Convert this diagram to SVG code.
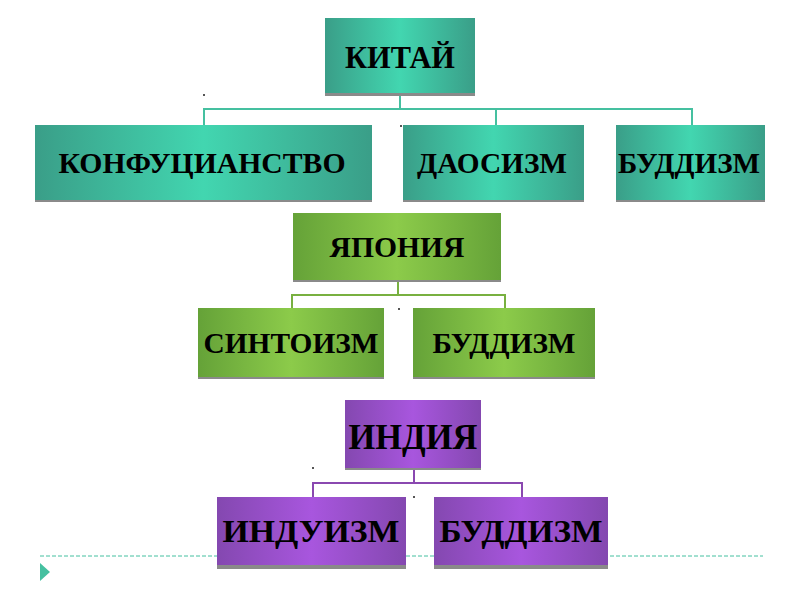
<svg xmlns="http://www.w3.org/2000/svg" width="800" height="600" viewBox="0 0 800 600">
<defs>
<linearGradient id="gT" x1="0" y1="0" x2="1" y2="0">
<stop offset="0" stop-color="#3a9e88"/><stop offset="0.5" stop-color="#42d6b0"/><stop offset="1" stop-color="#3a9e88"/>
</linearGradient>
<linearGradient id="gG" x1="0" y1="0" x2="1" y2="0">
<stop offset="0" stop-color="#65a238"/><stop offset="0.5" stop-color="#8ccb4a"/><stop offset="1" stop-color="#65a238"/>
</linearGradient>
<linearGradient id="gP" x1="0" y1="0" x2="1" y2="0">
<stop offset="0" stop-color="#8448b0"/><stop offset="0.5" stop-color="#a856de"/><stop offset="1" stop-color="#8448b0"/>
</linearGradient>
</defs>
<style>
.t{fill:url(#gT)} .g{fill:url(#gG)} .p{fill:url(#gP)}
.sh{fill:#8a8a8a}
text{font-family:"Liberation Serif","Times New Roman",serif;font-weight:bold;fill:#000;text-anchor:middle}
.ct{stroke:#45c0a0;stroke-width:2;fill:none}
.cg{stroke:#78b040;stroke-width:2;fill:none}
.cp{stroke:#8a48b0;stroke-width:2;fill:none}
</style>
<rect width="800" height="600" fill="#fff"/>
<g id="decor">
<line x1="40" y1="556" x2="763" y2="556" stroke="#45c0a0" stroke-width="1" stroke-dasharray="4,2"/>
<polygon points="40,563 50,572 40,581" fill="#45c0a0"/>
</g>
<g id="connectors">
<path class="ct" d="M400 96V109M204 125V109H692V125M496 109V125"/>
<path class="cg" d="M398 280V295M292 308V295H505V308"/>
<path class="cp" d="M414 468V483M313 497V483H522V497"/>
</g>
<g id="dots" fill="#555">
<rect x="203" y="94" width="2" height="2"/>
<rect x="400" y="125" width="2" height="2"/>
<rect x="398" y="308" width="2" height="2"/>
<rect x="312" y="467" width="2" height="2"/>
<rect x="413" y="496" width="2" height="2"/>
</g>
<g id="china">
<rect class="sh" x="325" y="20" width="150" height="76"/>
<rect class="t" x="325" y="18" width="150" height="75"/>
<text x="400" y="68" font-size="32" textLength="110" lengthAdjust="spacingAndGlyphs">КИТАЙ</text>
</g>
<g id="confucianism">
<rect class="sh" x="35" y="127" width="337" height="75"/>
<rect class="t" x="35" y="125" width="337" height="75"/>
<text x="202" y="173" font-size="30" textLength="287" lengthAdjust="spacingAndGlyphs">КОНФУЦИАНСТВО</text>
</g>
<g id="taoism">
<rect class="sh" x="403" y="127" width="181" height="75"/>
<rect class="t" x="403" y="125" width="181" height="75"/>
<text x="492" y="173" font-size="30" textLength="150" lengthAdjust="spacingAndGlyphs">ДАОСИЗМ</text>
</g>
<g id="buddhism-china">
<rect class="sh" x="616" y="127" width="149" height="75"/>
<rect class="t" x="616" y="125" width="149" height="75"/>
<text x="689" y="173" font-size="30" textLength="142" lengthAdjust="spacingAndGlyphs">БУДДИЗМ</text>
</g>
<g id="japan">
<rect class="sh" x="293" y="215" width="208" height="67"/>
<rect class="g" x="293" y="213" width="208" height="67"/>
<text x="397" y="257" font-size="30" textLength="135" lengthAdjust="spacingAndGlyphs">ЯПОНИЯ</text>
</g>
<g id="shinto">
<rect class="sh" x="198" y="310" width="186" height="69"/>
<rect class="g" x="198" y="308" width="186" height="69"/>
<text x="291" y="353" font-size="30" textLength="175" lengthAdjust="spacingAndGlyphs">СИНТОИЗМ</text>
</g>
<g id="buddhism-japan">
<rect class="sh" x="413" y="310" width="182" height="69"/>
<rect class="g" x="413" y="308" width="182" height="69"/>
<text x="504" y="353" font-size="30" textLength="143" lengthAdjust="spacingAndGlyphs">БУДДИЗМ</text>
</g>
<g id="india">
<rect class="sh" x="345" y="402" width="136" height="68"/>
<rect class="p" x="345" y="400" width="136" height="68"/>
<text x="413" y="449" font-size="36" textLength="129" lengthAdjust="spacingAndGlyphs">ИНДИЯ</text>
</g>
<g id="hinduism">
<rect class="sh" x="217" y="499" width="189" height="70"/>
<rect class="p" x="217" y="497" width="189" height="68"/>
<text x="311" y="542" font-size="32" textLength="177" lengthAdjust="spacingAndGlyphs">ИНДУИЗМ</text>
</g>
<g id="buddhism-india">
<rect class="sh" x="434" y="499" width="174" height="70"/>
<rect class="p" x="434" y="497" width="174" height="68"/>
<text x="521" y="542" font-size="32" textLength="163" lengthAdjust="spacingAndGlyphs">БУДДИЗМ</text>
</g>
</svg>
